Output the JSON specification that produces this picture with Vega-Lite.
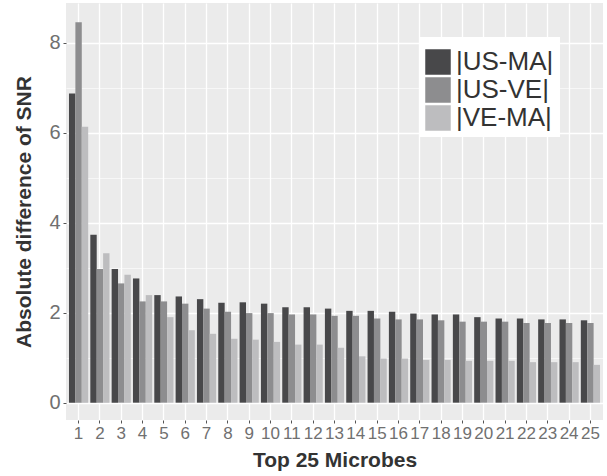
{
  "$schema": "https://vega.github.io/schema/vega-lite/v6.json",
  "width": 537,
  "height": 417,
  "autosize": "none",
  "padding": {"left": 66, "top": 3, "right": 4, "bottom": 56},
  "background": "white",
  "config": {
    "view": {"fill": "#ebebeb", "stroke": null},
    "font": "Liberation Sans"
  },
  "data": {
    "values": [
      {"microbe": 1, "pair": "|US-MA|", "value": 6.87},
      {"microbe": 1, "pair": "|US-VE|", "value": 8.45},
      {"microbe": 1, "pair": "|VE-MA|", "value": 6.13},
      {"microbe": 2, "pair": "|US-MA|", "value": 3.73},
      {"microbe": 2, "pair": "|US-VE|", "value": 2.97},
      {"microbe": 2, "pair": "|VE-MA|", "value": 3.32},
      {"microbe": 3, "pair": "|US-MA|", "value": 2.97},
      {"microbe": 3, "pair": "|US-VE|", "value": 2.65},
      {"microbe": 3, "pair": "|VE-MA|", "value": 2.84},
      {"microbe": 4, "pair": "|US-MA|", "value": 2.76},
      {"microbe": 4, "pair": "|US-VE|", "value": 2.25},
      {"microbe": 4, "pair": "|VE-MA|", "value": 2.39},
      {"microbe": 5, "pair": "|US-MA|", "value": 2.39},
      {"microbe": 5, "pair": "|US-VE|", "value": 2.25},
      {"microbe": 5, "pair": "|VE-MA|", "value": 1.9},
      {"microbe": 6, "pair": "|US-MA|", "value": 2.36},
      {"microbe": 6, "pair": "|US-VE|", "value": 2.2},
      {"microbe": 6, "pair": "|VE-MA|", "value": 1.61},
      {"microbe": 7, "pair": "|US-MA|", "value": 2.3},
      {"microbe": 7, "pair": "|US-VE|", "value": 2.09},
      {"microbe": 7, "pair": "|VE-MA|", "value": 1.53},
      {"microbe": 8, "pair": "|US-MA|", "value": 2.22},
      {"microbe": 8, "pair": "|US-VE|", "value": 2.02},
      {"microbe": 8, "pair": "|VE-MA|", "value": 1.42},
      {"microbe": 9, "pair": "|US-MA|", "value": 2.23},
      {"microbe": 9, "pair": "|US-VE|", "value": 1.99},
      {"microbe": 9, "pair": "|VE-MA|", "value": 1.4},
      {"microbe": 10, "pair": "|US-MA|", "value": 2.2},
      {"microbe": 10, "pair": "|US-VE|", "value": 1.99},
      {"microbe": 10, "pair": "|VE-MA|", "value": 1.35},
      {"microbe": 11, "pair": "|US-MA|", "value": 2.12},
      {"microbe": 11, "pair": "|US-VE|", "value": 1.96},
      {"microbe": 11, "pair": "|VE-MA|", "value": 1.29},
      {"microbe": 12, "pair": "|US-MA|", "value": 2.12},
      {"microbe": 12, "pair": "|US-VE|", "value": 1.96},
      {"microbe": 12, "pair": "|VE-MA|", "value": 1.29},
      {"microbe": 13, "pair": "|US-MA|", "value": 2.09},
      {"microbe": 13, "pair": "|US-VE|", "value": 1.93},
      {"microbe": 13, "pair": "|VE-MA|", "value": 1.22},
      {"microbe": 14, "pair": "|US-MA|", "value": 2.04},
      {"microbe": 14, "pair": "|US-VE|", "value": 1.93},
      {"microbe": 14, "pair": "|VE-MA|", "value": 1.03},
      {"microbe": 15, "pair": "|US-MA|", "value": 2.04},
      {"microbe": 15, "pair": "|US-VE|", "value": 1.87},
      {"microbe": 15, "pair": "|VE-MA|", "value": 0.98},
      {"microbe": 16, "pair": "|US-MA|", "value": 2.02},
      {"microbe": 16, "pair": "|US-VE|", "value": 1.85},
      {"microbe": 16, "pair": "|VE-MA|", "value": 0.98},
      {"microbe": 17, "pair": "|US-MA|", "value": 1.98},
      {"microbe": 17, "pair": "|US-VE|", "value": 1.85},
      {"microbe": 17, "pair": "|VE-MA|", "value": 0.95},
      {"microbe": 18, "pair": "|US-MA|", "value": 1.96},
      {"microbe": 18, "pair": "|US-VE|", "value": 1.83},
      {"microbe": 18, "pair": "|VE-MA|", "value": 0.95},
      {"microbe": 19, "pair": "|US-MA|", "value": 1.96},
      {"microbe": 19, "pair": "|US-VE|", "value": 1.8},
      {"microbe": 19, "pair": "|VE-MA|", "value": 0.93},
      {"microbe": 20, "pair": "|US-MA|", "value": 1.9},
      {"microbe": 20, "pair": "|US-VE|", "value": 1.8},
      {"microbe": 20, "pair": "|VE-MA|", "value": 0.93},
      {"microbe": 21, "pair": "|US-MA|", "value": 1.87},
      {"microbe": 21, "pair": "|US-VE|", "value": 1.8},
      {"microbe": 21, "pair": "|VE-MA|", "value": 0.93},
      {"microbe": 22, "pair": "|US-MA|", "value": 1.87},
      {"microbe": 22, "pair": "|US-VE|", "value": 1.77},
      {"microbe": 22, "pair": "|VE-MA|", "value": 0.9},
      {"microbe": 23, "pair": "|US-MA|", "value": 1.85},
      {"microbe": 23, "pair": "|US-VE|", "value": 1.77},
      {"microbe": 23, "pair": "|VE-MA|", "value": 0.9},
      {"microbe": 24, "pair": "|US-MA|", "value": 1.85},
      {"microbe": 24, "pair": "|US-VE|", "value": 1.77},
      {"microbe": 24, "pair": "|VE-MA|", "value": 0.9},
      {"microbe": 25, "pair": "|US-MA|", "value": 1.83},
      {"microbe": 25, "pair": "|US-VE|", "value": 1.77},
      {"microbe": 25, "pair": "|VE-MA|", "value": 0.84}
    ]
  },
  "mark": {"type": "bar"},
  "encoding": {
    "x": {
      "field": "microbe",
      "type": "ordinal",
      "sort": "ascending",
      "scale": {"paddingInner": 0.1, "paddingOuter": 0.14},
      "axis": {
        "title": "Top 25 Microbes",
        "titleFontSize": 21,
        "titleFontWeight": "bold",
        "titleColor": "#333333",
        "titlePadding": 8,
        "labelAngle": 0,
        "labelFontSize": 17,
        "labelColor": "#707070",
        "labelPadding": 2,
        "tickColor": "#555555",
        "tickSize": 3,
        "tickWidth": 1,
        "domain": false,
        "grid": true,
        "gridColor": "white",
        "gridWidth": 1.3,
        "bandPosition": 0.5
      }
    },
    "xOffset": {
      "field": "pair",
      "type": "nominal",
      "scale": {"domain": ["|US-MA|", "|US-VE|", "|VE-MA|"], "paddingInner": 0, "paddingOuter": 0}
    },
    "y": {
      "field": "value",
      "type": "quantitative",
      "scale": {"domain": [-0.385, 8.88], "nice": false, "zero": false},
      "axis": {
        "title": "Absolute difference of SNR",
        "titleFontSize": 21,
        "titleFontWeight": "bold",
        "titleColor": "#333333",
        "titlePadding": 14,
        "values": [0, 1, 2, 3, 4, 5, 6, 7, 8],
        "labelExpr": "datum.value % 2 == 0 ? datum.label : ''",
        "labelFontSize": 20,
        "labelColor": "#707070",
        "labelPadding": 3,
        "tickColor": "#555555",
        "tickSize": 3,
        "tickOpacity": {"condition": {"test": "datum.value % 2 == 0", "value": 1}, "value": 0},
        "domain": false,
        "grid": true,
        "gridColor": "white",
        "gridWidth": {"condition": {"test": "datum.value % 2 == 0", "value": 1.3}, "value": 0.6}
      }
    },
    "y2": {"datum": 0},
    "color": {
      "field": "pair",
      "type": "nominal",
      "scale": {"domain": ["|US-MA|", "|US-VE|", "|VE-MA|"], "range": ["#48484a", "#8d8d8f", "#bdbdbf"]},
      "legend": {
        "orient": "none",
        "legendX": 353,
        "legendY": 34,
        "title": " ",
        "titleFontSize": 4,
        "titlePadding": 2,
        "fillColor": "white",
        "padding": 6,
        "symbolType": "square",
        "symbolSize": 650,
        "symbolStrokeWidth": 0,
        "symbolOpacity": 1,
        "labelFontSize": 26,
        "labelColor": "#333333",
        "labelOffset": 5,
        "rowPadding": 2,
        "labelLimit": 200
      }
    }
  }
}
